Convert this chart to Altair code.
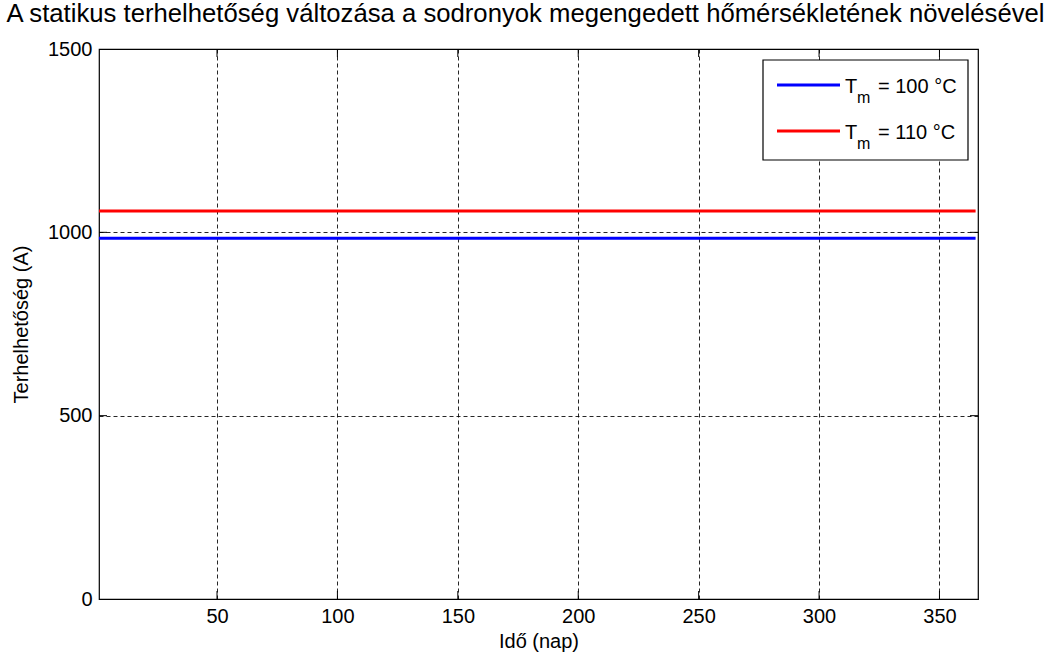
import altair as alt
import pandas as pd

# Static ampacity of the conductors over one year, for two permitted temperatures
days = [1, 365]
temps = [100, 110]
load_100 = [984, 984]
load_110 = [1058, 1058]
colors = ["#0000ff", "#ff0000"]
x_ticks = [50, 100, 150, 200, 250, 300, 350]
y_ticks = [0, 500, 1000, 1500]

FONT = "Liberation Sans"
W, H = 879, 550
x_dom = [1, 366]
y_dom = [0, 1500]

labels = [f"T_m = {t} °C" for t in temps]
rows = []
for lab, vals in zip(labels, [load_100, load_110]):
    for d, v in zip(days, vals):
        rows.append({"nap": d, "terhelhetoseg": v, "sorozat": lab})
df = pd.DataFrame(rows)

xs = alt.Scale(domain=x_dom, nice=False, zero=False)
ys = alt.Scale(domain=y_dom, nice=False)

common_axis = dict(grid=True, gridDash=[4, 3], gridColor="#000000", gridOpacity=0.85,
                   tickSize=0, domain=False, labelFontSize=20, titleFontSize=20,
                   titleFontWeight="normal", labelFont=FONT, titleFont=FONT,
                   labelColor="#000000", titleColor="#000000", format="d")
x_axis = alt.Axis(values=x_ticks, labelPadding=7, titlePadding=5, **common_axis)
y_axis = alt.Axis(values=y_ticks, labelPadding=7, titlePadding=16, **common_axis)
X_TITLE = "Idő (nap)"
Y_TITLE = "Terhelhetőség (A)"

lines = alt.Chart(df).mark_line(strokeWidth=3, clip=True).encode(
    x=alt.X("nap:Q", scale=xs, title=X_TITLE, axis=x_axis),
    y=alt.Y("terhelhetoseg:Q", scale=ys, title=Y_TITLE, axis=y_axis),
    color=alt.Color("sorozat:N", scale=alt.Scale(domain=labels, range=colors), legend=None),
)

# inward tick marks on all four sides of the box
xt = pd.DataFrame({"v": x_ticks})
yt = pd.DataFrame({"v": y_ticks[1:-1]})
TL = 8
tick_layers = [
    alt.Chart(xt).mark_rule(color="#000000").encode(
        x=alt.X("v:Q", scale=xs, title=X_TITLE, axis=x_axis), y=alt.value(H), y2=alt.value(H - TL)),
    alt.Chart(xt).mark_rule(color="#000000").encode(
        x=alt.X("v:Q", scale=xs, title=X_TITLE, axis=x_axis), y=alt.value(0), y2=alt.value(TL)),
    alt.Chart(yt).mark_rule(color="#000000").encode(
        y=alt.Y("v:Q", scale=ys, title=Y_TITLE, axis=y_axis), x=alt.value(0), x2=alt.value(TL)),
    alt.Chart(yt).mark_rule(color="#000000").encode(
        y=alt.Y("v:Q", scale=ys, title=Y_TITLE, axis=y_axis), x=alt.value(W), x2=alt.value(W - TL)),
]

# legend box with subscripted labels
one = pd.DataFrame({"k": [0]})
leg = [
    alt.Chart(one).mark_rect(fill="#ffffff", stroke="#000000", strokeWidth=1.2).encode(
        x=alt.value(664), x2=alt.value(869), y=alt.value(11), y2=alt.value(111)),
]
for i, (t, c) in enumerate(zip(temps, colors)):
    yl = 36 + 46 * i
    leg.append(alt.Chart(one).mark_rule(color=c, strokeWidth=3).encode(
        x=alt.value(678), x2=alt.value(741), y=alt.value(yl)))
    leg.append(alt.Chart(one).mark_text(align="left", baseline="alphabetic", font=FONT,
                                        fontSize=20, color="#000000").encode(
        x=alt.value(746), y=alt.value(yl + 8), text=alt.value("T")))
    leg.append(alt.Chart(one).mark_text(align="left", baseline="alphabetic", font=FONT,
                                        fontSize=16, color="#000000").encode(
        x=alt.value(758), y=alt.value(yl + 18), text=alt.value("m")))
    leg.append(alt.Chart(one).mark_text(align="left", baseline="alphabetic", font=FONT,
                                        fontSize=20, color="#000000").encode(
        x=alt.value(779), y=alt.value(yl + 8), text=alt.value(f"= {t} °C")))

chart = alt.layer(lines, *tick_layers, *leg).properties(
    width=W, height=H,
    background="#ffffff",
    title=alt.TitleParams(
        "A statikus terhelhetőség változása a sodronyok megengedett hőmérsékletének növelésével",
        font=FONT, fontSize=25.7, fontWeight="normal", color="#000000", anchor="middle",
        offset=11, dx=-13),
    autosize=alt.AutoSizeParams(type="none"),
    padding={"left": 99, "top": 49, "right": 72, "bottom": 57},
).configure_view(stroke="#000000", strokeWidth=1.2)

chart.save("out.html", embed_options={"renderer": "svg", "actions": False})
